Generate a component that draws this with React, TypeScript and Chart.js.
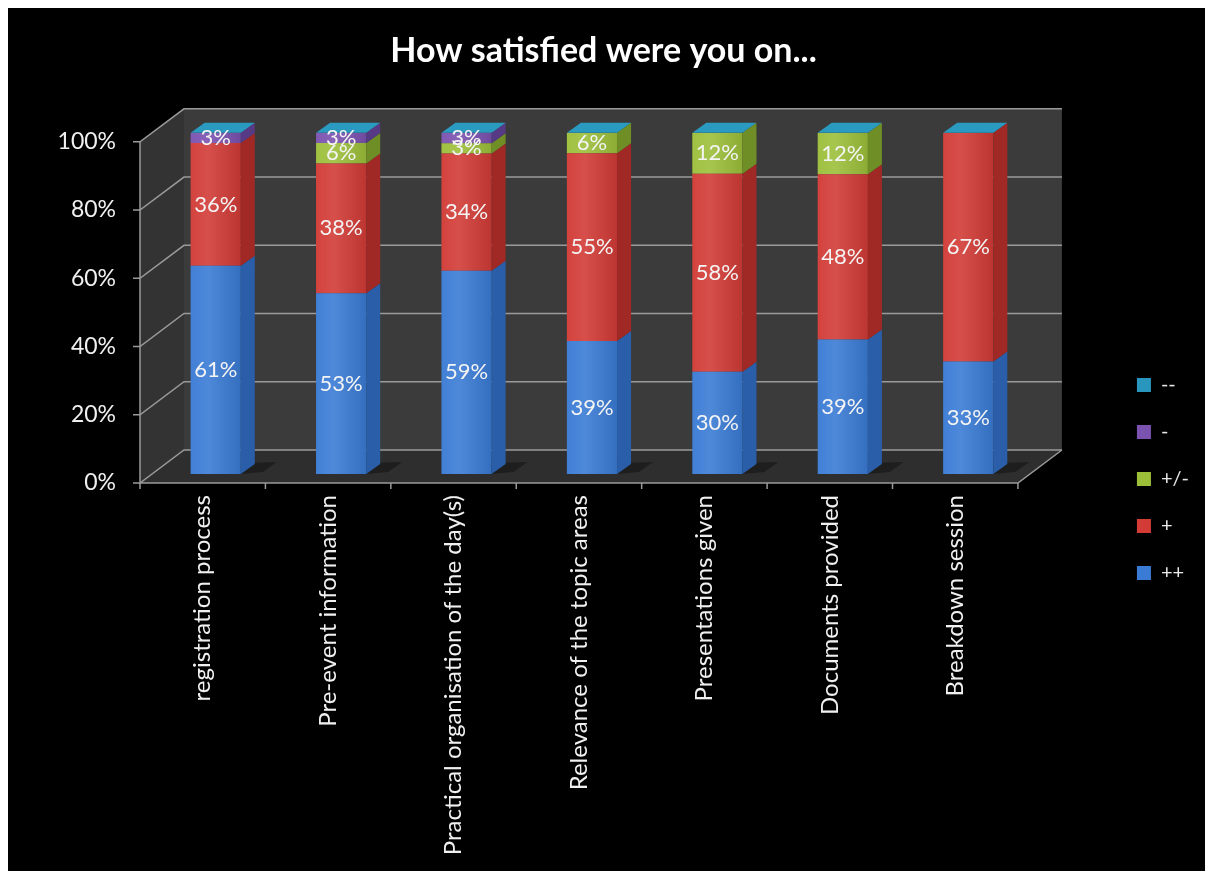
import { useEffect, useRef } from "react";
import { Chart, registerables } from "chart.js";

Chart.register(...registerables);

const categories = [
  "registration process",
  "Pre-event information",
  "Practical organisation of the day(s)",
  "Relevance of the topic areas",
  "Presentations given",
  "Documents provided",
  "Breakdown session",
];
const seriesNames = ["++", "+", "+/-", "-", "--"];
const veryGood = [61, 53, 59, 39, 30, 39, 33];
const good = [36, 38, 34, 55, 58, 48, 67];
const neutral = [0, 6, 3, 6, 12, 12, 0];
const bad = [3, 3, 3, 0, 0, 0, 0];
const veryBad = [0, 0, 0, 0, 0, 0, 0];
const yTicks = [0, 20, 40, 60, 80, 100];

const frontColors = ["#3a7bd5", "#d23b36", "#9cbf3a", "#7b52b0", "#2896bd"];
const sideColors = ["#2a5ea8", "#a02926", "#6f8f26", "#573a85", "#1e7392"];
const topColor = "#2a9ac0";

const FX = -13; // front plane offset from bar plane
const FY = 9;
const BX = 44; // back wall offset from front plane
const BY = -33;
const DX = 14; // bar depth
const DY = -10;

const series = [veryGood, good, neutral, bad, veryBad];
const totals = categories.map((_, i) => series.reduce((s, arr) => s + arr[i], 0));

function poly(ctx: CanvasRenderingContext2D, pts: number[][], fill: string) {
  ctx.beginPath();
  ctx.moveTo(pts[0][0], pts[0][1]);
  for (let i = 1; i < pts.length; i++) ctx.lineTo(pts[i][0], pts[i][1]);
  ctx.closePath();
  ctx.fillStyle = fill;
  ctx.fill();
}

const threeD = {
  id: "threeD",
  beforeDatasetsDraw(chart: any) {
    const { ctx, chartArea: a, scales } = chart;
    const x = scales.x;
    const y = scales.y;
    const Lf = a.left + FX;
    const Rf = a.right + FX;
    const yf = (v: number) => y.getPixelForValue(v) + FY;
    ctx.save();
    // back wall
    poly(ctx, [[Lf + BX, yf(100) + BY], [Rf + BX, yf(100) + BY], [Rf + BX, yf(0) + BY], [Lf + BX, yf(0) + BY]], "#3b3b3b");
    // left wall
    poly(ctx, [[Lf, yf(0)], [Lf, yf(100)], [Lf + BX, yf(100) + BY], [Lf + BX, yf(0) + BY]], "#333333");
    // floor
    poly(ctx, [[Lf, yf(0)], [Rf, yf(0)], [Rf + BX, yf(0) + BY], [Lf + BX, yf(0) + BY]], "#2e2e2e");
    // bar shadows on floor
    const n = categories.length;
    for (let i = 0; i < n; i++) {
      const cx = x.getPixelForValue(i);
      const meta = chart.getDatasetMeta(0);
      const el = meta.data[i];
      if (!el) continue;
      const w = el.width;
      const b = y.getPixelForValue(0);
      poly(ctx, [[cx + w / 2, b], [cx + w / 2 + 22, b - 2], [cx + w / 2 + DX + 22, b + DY - 2], [cx - w / 2 + DX + 4, b + DY]], "rgba(0,0,0,0.35)");
    }
    // gridlines
    ctx.strokeStyle = "#9a9a9a";
    ctx.lineWidth = 1.5;
    for (const v of yTicks) {
      ctx.beginPath();
      ctx.moveTo(Lf - 7, yf(v));
      ctx.lineTo(Lf, yf(v));
      ctx.lineTo(Lf + BX, yf(v) + BY);
      ctx.lineTo(Rf + BX, yf(v) + BY);
      ctx.stroke();
    }
    // axes
    ctx.beginPath();
    ctx.moveTo(Lf, yf(100));
    ctx.lineTo(Lf, yf(0));
    ctx.lineTo(Rf, yf(0));
    ctx.lineTo(Rf + BX, yf(0) + BY);
    ctx.stroke();
    for (let i = 0; i <= n; i++) {
      const px = x.getPixelForValue(i - 0.5) + FX;
      ctx.beginPath();
      ctx.moveTo(px, yf(0));
      ctx.lineTo(px, yf(0) + 6);
      ctx.stroke();
    }
    ctx.restore();
  },
  afterDatasetsDraw(chart: any) {
    const { ctx } = chart;
    const n = categories.length;
    ctx.save();
    for (let i = 0; i < n; i++) {
      let top = Infinity;
      let xl = 0;
      let xr = 0;
      chart.data.datasets.forEach((ds: any, di: number) => {
        const el: any = chart.getDatasetMeta(di).data[i];
        if (!el) return;
        const p = el.getProps(["x", "y", "base", "width"], true);
        xl = p.x - p.width / 2;
        xr = p.x + p.width / 2;
        const t = Math.min(p.y, p.base);
        const b = Math.max(p.y, p.base);
        if (b - t > 0.3) {
          const g = ctx.createLinearGradient(xl, 0, xr, 0);
          g.addColorStop(0, "rgba(255,255,255,0.04)");
          g.addColorStop(0.35, "rgba(255,255,255,0.10)");
          g.addColorStop(1, "rgba(0,0,0,0.10)");
          ctx.fillStyle = g;
          ctx.fillRect(xl, t, xr - xl, b - t);
          poly(ctx, [[xr, t], [xr + DX, t + DY], [xr + DX, b + DY], [xr, b]], sideColors[di]);
          top = Math.min(top, t);
        }
      });
      if (top < Infinity) {
        poly(ctx, [[xl, top], [xr, top], [xr + DX, top + DY], [xl + DX, top + DY]], topColor);
      }
    }
    // value labels
    ctx.font = "22px Lato";
    ctx.fillStyle = "#f4f4f4";
    ctx.textAlign = "center";
    ctx.textBaseline = "middle";
    chart.data.datasets.forEach((ds: any, di: number) => {
      chart.getDatasetMeta(di).data.forEach((el: any, i: number) => {
        const raw = series[di][i];
        if (!raw) return;
        const p = el.getProps(["x", "y", "base"], true);
        ctx.fillText(raw + "%", p.x, (p.y + p.base) / 2);
      });
    });
    ctx.restore();
  },
};

export default function App() {
  const ref = useRef<HTMLCanvasElement | null>(null);
  useEffect(() => {
    if (!ref.current) return;
    const chart = new Chart(ref.current, {
      type: "bar",
      data: {
        labels: categories,
        datasets: seriesNames.map((name, di) => ({
          label: name,
          data: series[di].map((v, i) => (v / totals[i]) * 100),
          backgroundColor: frontColors[di],
          borderWidth: 0,
          categoryPercentage: 1,
          barPercentage: 0.4,
        })),
      },
      options: {
        animation: false,
        responsive: true,
        maintainAspectRatio: false,
        layout: { padding: { left: 0, right: 6, top: 0, bottom: 0 } },
        plugins: {
          title: {
            display: true,
            text: "How satisfied were you on...",
            color: "#ffffff",
            font: { family: "Lato", size: 34, weight: "bold" },
            padding: { top: 23, bottom: 61 },
          },
          legend: {
            position: "right",
            align: "start",
            reverse: true,
            title: { display: true, text: " ", font: { size: 10 }, padding: { top: 328, bottom: 0 } },
            labels: {
              color: "#e8e8e8",
              font: { family: "Lato", size: 20 },
              boxWidth: 14,
              boxHeight: 14,
              padding: 27,
            },
          },
          tooltip: { enabled: false },
        },
        scales: {
          x: {
            stacked: true,
            grid: { display: false, drawTicks: false },
            border: { display: false },
            ticks: {
              color: "#f0f0f0",
              font: { family: "Lato", size: 24 },
              minRotation: 90,
              maxRotation: 90,
              labelOffset: FX,
              padding: 21,
              autoSkip: false,
            },
            afterFit: (s: any) => {
              s.height = 397;
            },
          },
          y: {
            stacked: true,
            min: 0,
            max: 100,
            ticks: {
              stepSize: 20,
              callback: (v: any) => v + "%",
              color: "#f0f0f0",
              font: { family: "Lato", size: 23 },
              padding: 37,
              labelOffset: FY,
            },
            grid: { display: false, drawTicks: false },
            border: { display: false },
            afterFit: (s: any) => {
              s.width = 145;
            },
          },
          y2: {
            position: "right",
            display: true,
            grid: { display: false, drawTicks: false },
            border: { display: false },
            ticks: { display: false },
            afterFit: (s: any) => {
              s.width = 79;
            },
          },
        },
      } as any,
      plugins: [threeD],
    });
    return () => chart.destroy();
  }, []);
  return (
    <div style={{ width: "100%", height: 863, background: "#000", position: "relative" }}>
      <canvas ref={ref} />
    </div>
  );
}
